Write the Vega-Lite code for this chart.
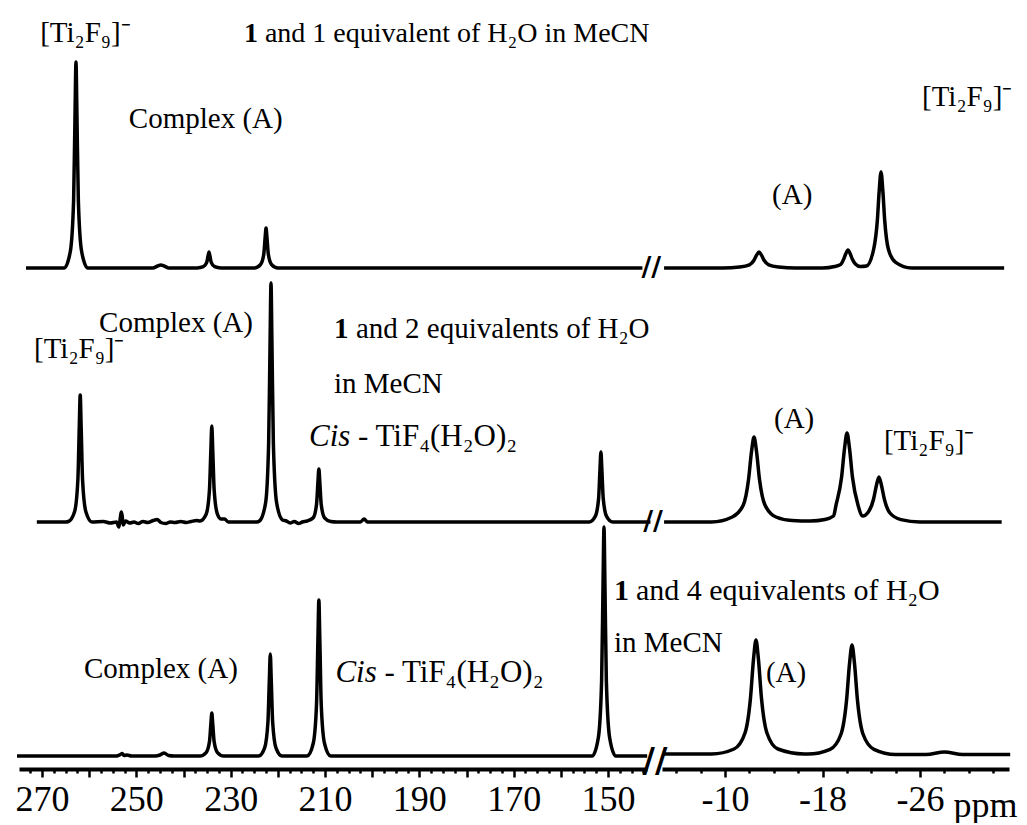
{
  "$schema": "https://vega.github.io/schema/vega-lite/v6.json",
  "padding": {"left": 15, "top": 0, "right": 0, "bottom": 0},
  "bounds": "flush",
  "config": {"view": {"stroke": null}, "font": "Liberation Serif", "axis": {"labelFont": "Liberation Serif", "titleFont": "Liberation Serif"}},
  "datasets": {
    "spectra": [
      {"trace":"t","ppm":273.4,"h":0},{"trace":"t","ppm":266,"h":0},{"trace":"t","ppm":265.3,"h":0},{"trace":"t","ppm":264.0,"h":16.5},{"trace":"t","ppm":263.3,"h":68},{"trace":"t","ppm":263.0,"h":154.5},{"trace":"t","ppm":262.8,"h":206},{"trace":"t","ppm":262.6,"h":154.5},{"trace":"t","ppm":262.3,"h":68},{"trace":"t","ppm":261.6,"h":16.5},{"trace":"t","ppm":260.3,"h":0},{"trace":"t","ppm":250,"h":0},{"trace":"t","ppm":246.5,"h":0},{"trace":"t","ppm":245.5,"h":2},{"trace":"t","ppm":244.8,"h":3},{"trace":"t","ppm":244.1,"h":2},{"trace":"t","ppm":243.1,"h":0},{"trace":"t","ppm":237.1,"h":0},{"trace":"t","ppm":235.8,"h":1.3},{"trace":"t","ppm":235.1,"h":5.3},{"trace":"t","ppm":234.8,"h":12},{"trace":"t","ppm":234.6,"h":16},{"trace":"t","ppm":234.4,"h":12},{"trace":"t","ppm":234.1,"h":5.3},{"trace":"t","ppm":233.4,"h":1.3},{"trace":"t","ppm":232.1,"h":0},{"trace":"t","ppm":225.0,"h":0},{"trace":"t","ppm":223.7,"h":3.2},{"trace":"t","ppm":223.0,"h":13.2},{"trace":"t","ppm":222.7,"h":30},{"trace":"t","ppm":222.5,"h":40},{"trace":"t","ppm":222.3,"h":30},{"trace":"t","ppm":222.0,"h":13.2},{"trace":"t","ppm":221.3,"h":3.2},{"trace":"t","ppm":220.0,"h":0},{"trace":"t","ppm":142.7,"h":0},
      {"trace":"t","ppm":-5.0,"h":0},{"trace":"t","ppm":-9.8,"h":0},{"trace":"t","ppm":-11.2,"h":1},{"trace":"t","ppm":-12.0,"h":3.2},{"trace":"t","ppm":-12.39,"h":8},{"trace":"t","ppm":-12.59,"h":12.8},{"trace":"t","ppm":-12.79,"h":16},{"trace":"t","ppm":-12.99,"h":12.8},{"trace":"t","ppm":-13.19,"h":8},{"trace":"t","ppm":-13.59,"h":3.2},{"trace":"t","ppm":-14.39,"h":1},{"trace":"t","ppm":-15.8,"h":0},{"trace":"t","ppm":-18.0,"h":0},{"trace":"t","ppm":-19.0,"h":1.5},{"trace":"t","ppm":-19.5,"h":3.6},{"trace":"t","ppm":-19.74,"h":9},{"trace":"t","ppm":-19.9,"h":14},{"trace":"t","ppm":-20.09,"h":18},{"trace":"t","ppm":-20.28,"h":14},{"trace":"t","ppm":-20.44,"h":9},{"trace":"t","ppm":-20.7,"h":4},{"trace":"t","ppm":-21.1,"h":1.5},{"trace":"t","ppm":-21.6,"h":2},{"trace":"t","ppm":-22.2,"h":19},{"trace":"t","ppm":-22.5,"h":48},{"trace":"t","ppm":-22.65,"h":77},{"trace":"t","ppm":-22.8,"h":96},{"trace":"t","ppm":-22.95,"h":77},{"trace":"t","ppm":-23.1,"h":48},{"trace":"t","ppm":-23.4,"h":19},{"trace":"t","ppm":-24.0,"h":5.6},{"trace":"t","ppm":-25.3,"h":0},{"trace":"t","ppm":-32.9,"h":0},
      {"trace":"m","ppm":271.1,"h":0},{"trace":"m","ppm":265,"h":0},{"trace":"m","ppm":264.4,"h":0.5},{"trace":"m","ppm":263.1,"h":10.2},{"trace":"m","ppm":262.4,"h":42},{"trace":"m","ppm":262.1,"h":95},{"trace":"m","ppm":261.9,"h":127},{"trace":"m","ppm":261.7,"h":95},{"trace":"m","ppm":261.4,"h":42},{"trace":"m","ppm":260.7,"h":10.2},{"trace":"m","ppm":259.4,"h":0},{"trace":"m","ppm":257,"h":0.5},{"trace":"m","ppm":255.5,"h":-1},{"trace":"m","ppm":254.2,"h":0},{"trace":"m","ppm":253.7,"h":-5},{"trace":"m","ppm":253.4,"h":4},{"trace":"m","ppm":253.2,"h":10},{"trace":"m","ppm":253.0,"h":6},{"trace":"m","ppm":252.8,"h":-3},{"trace":"m","ppm":252.3,"h":1},{"trace":"m","ppm":251.4,"h":-1},{"trace":"m","ppm":250.5,"h":0},{"trace":"m","ppm":249.6,"h":-1.5},{"trace":"m","ppm":248.6,"h":0.5},{"trace":"m","ppm":247.6,"h":-0.5},{"trace":"m","ppm":246.4,"h":1.5},{"trace":"m","ppm":245.6,"h":2.5},{"trace":"m","ppm":244.8,"h":-0.5},{"trace":"m","ppm":243.8,"h":-1.5},{"trace":"m","ppm":242.8,"h":0},{"trace":"m","ppm":241.8,"h":-0.5},{"trace":"m","ppm":240.6,"h":0.5},{"trace":"m","ppm":239.4,"h":-0.5},{"trace":"m","ppm":238.4,"h":0.5},{"trace":"m","ppm":237.2,"h":1.5},{"trace":"m","ppm":236.5,"h":1},{"trace":"m","ppm":235.2,"h":7.7},{"trace":"m","ppm":234.5,"h":32},{"trace":"m","ppm":234.2,"h":72},{"trace":"m","ppm":234.0,"h":96},{"trace":"m","ppm":233.8,"h":72},{"trace":"m","ppm":233.5,"h":32},{"trace":"m","ppm":232.8,"h":7.7},{"trace":"m","ppm":232.0,"h":3},{"trace":"m","ppm":231.3,"h":3},{"trace":"m","ppm":230.5,"h":0},{"trace":"m","ppm":224.5,"h":0},{"trace":"m","ppm":223.9,"h":1},{"trace":"m","ppm":222.6,"h":19},{"trace":"m","ppm":221.95,"h":79},{"trace":"m","ppm":221.65,"h":179},{"trace":"m","ppm":221.45,"h":239},{"trace":"m","ppm":221.25,"h":179},{"trace":"m","ppm":220.95,"h":79},{"trace":"m","ppm":220.25,"h":19},{"trace":"m","ppm":219.0,"h":2},{"trace":"m","ppm":218.2,"h":1},{"trace":"m","ppm":217.4,"h":-1},{"trace":"m","ppm":216.5,"h":0.5},{"trace":"m","ppm":215.6,"h":-1.5},{"trace":"m","ppm":214.8,"h":0},{"trace":"m","ppm":213.8,"h":1},{"trace":"m","ppm":212.5,"h":4.2},{"trace":"m","ppm":211.8,"h":17.5},{"trace":"m","ppm":211.5,"h":40},{"trace":"m","ppm":211.3,"h":53},{"trace":"m","ppm":211.1,"h":40},{"trace":"m","ppm":210.8,"h":17.5},{"trace":"m","ppm":210.1,"h":4.2},{"trace":"m","ppm":208.8,"h":0.5},{"trace":"m","ppm":207.5,"h":0},{"trace":"m","ppm":202.5,"h":0},{"trace":"m","ppm":201.7,"h":3},{"trace":"m","ppm":201.0,"h":0},{"trace":"m","ppm":154.0,"h":0},{"trace":"m","ppm":152.7,"h":5.6},{"trace":"m","ppm":152.0,"h":23},{"trace":"m","ppm":151.7,"h":52.5},{"trace":"m","ppm":151.5,"h":70},{"trace":"m","ppm":151.3,"h":52.5},{"trace":"m","ppm":151.0,"h":23},{"trace":"m","ppm":150.3,"h":5.6},{"trace":"m","ppm":149.0,"h":0},{"trace":"m","ppm":141.0,"h":0},
      {"trace":"m","ppm":-5.0,"h":0},{"trace":"m","ppm":-8.9,"h":0},{"trace":"m","ppm":-10.6,"h":5},{"trace":"m","ppm":-11.5,"h":17},{"trace":"m","ppm":-11.93,"h":42.5},{"trace":"m","ppm":-12.18,"h":71},{"trace":"m","ppm":-12.38,"h":85},{"trace":"m","ppm":-12.58,"h":71},{"trace":"m","ppm":-12.83,"h":42.5},{"trace":"m","ppm":-13.28,"h":17},{"trace":"m","ppm":-14.18,"h":5},{"trace":"m","ppm":-15.5,"h":1.5},{"trace":"m","ppm":-17.0,"h":1},{"trace":"m","ppm":-18.2,"h":2.5},{"trace":"m","ppm":-18.9,"h":6},{"trace":"m","ppm":-19.11,"h":17},{"trace":"m","ppm":-19.56,"h":44.5},{"trace":"m","ppm":-19.81,"h":74},{"trace":"m","ppm":-20.01,"h":89},{"trace":"m","ppm":-20.21,"h":74},{"trace":"m","ppm":-20.46,"h":44.5},{"trace":"m","ppm":-20.91,"h":17},{"trace":"m","ppm":-21.3,"h":6},{"trace":"m","ppm":-21.73,"h":9.5},{"trace":"m","ppm":-22.18,"h":22.5},{"trace":"m","ppm":-22.43,"h":37},{"trace":"m","ppm":-22.63,"h":45},{"trace":"m","ppm":-22.83,"h":37},{"trace":"m","ppm":-23.08,"h":22.5},{"trace":"m","ppm":-23.53,"h":9},{"trace":"m","ppm":-24.43,"h":2.4},{"trace":"m","ppm":-26.0,"h":0},{"trace":"m","ppm":-32.7,"h":0},
      {"trace":"b","ppm":275.3,"h":0},{"trace":"b","ppm":262,"h":0},{"trace":"b","ppm":254.2,"h":0},{"trace":"b","ppm":253.4,"h":1.5},{"trace":"b","ppm":253.0,"h":2.5},{"trace":"b","ppm":252.6,"h":0.5},{"trace":"b","ppm":252.0,"h":1},{"trace":"b","ppm":251.0,"h":0},{"trace":"b","ppm":246,"h":0},{"trace":"b","ppm":245,"h":1},{"trace":"b","ppm":244.1,"h":3},{"trace":"b","ppm":243.2,"h":0.5},{"trace":"b","ppm":242,"h":0},{"trace":"b","ppm":236.5,"h":0},{"trace":"b","ppm":235.2,"h":3.4},{"trace":"b","ppm":234.5,"h":14.2},{"trace":"b","ppm":234.2,"h":32},{"trace":"b","ppm":234.0,"h":43},{"trace":"b","ppm":233.8,"h":32},{"trace":"b","ppm":233.5,"h":14.2},{"trace":"b","ppm":232.8,"h":3.4},{"trace":"b","ppm":231.5,"h":0},{"trace":"b","ppm":224.1,"h":0},{"trace":"b","ppm":222.8,"h":8.2},{"trace":"b","ppm":222.1,"h":34},{"trace":"b","ppm":221.8,"h":76.5},{"trace":"b","ppm":221.6,"h":102},{"trace":"b","ppm":221.4,"h":76.5},{"trace":"b","ppm":221.1,"h":34},{"trace":"b","ppm":220.4,"h":8.2},{"trace":"b","ppm":219.1,"h":0},{"trace":"b","ppm":213.8,"h":0},{"trace":"b","ppm":212.5,"h":12.5},{"trace":"b","ppm":211.8,"h":51.5},{"trace":"b","ppm":211.5,"h":117},{"trace":"b","ppm":211.3,"h":156},{"trace":"b","ppm":211.1,"h":117},{"trace":"b","ppm":210.8,"h":51.5},{"trace":"b","ppm":210.1,"h":12.5},{"trace":"b","ppm":208.8,"h":0},{"trace":"b","ppm":153.35,"h":0},{"trace":"b","ppm":152.05,"h":18.3},{"trace":"b","ppm":151.35,"h":75.6},{"trace":"b","ppm":151.05,"h":172},{"trace":"b","ppm":150.85,"h":229},{"trace":"b","ppm":150.65,"h":172},{"trace":"b","ppm":150.35,"h":75.6},{"trace":"b","ppm":149.65,"h":18.3},{"trace":"b","ppm":148.35,"h":0},{"trace":"b","ppm":141.7,"h":0},
      {"trace":"b","ppm":-5.0,"h":2},{"trace":"b","ppm":-8.9,"h":2},{"trace":"b","ppm":-10.74,"h":7},{"trace":"b","ppm":-11.64,"h":23},{"trace":"b","ppm":-12.09,"h":58},{"trace":"b","ppm":-12.34,"h":97},{"trace":"b","ppm":-12.54,"h":116},{"trace":"b","ppm":-12.74,"h":97},{"trace":"b","ppm":-12.99,"h":58},{"trace":"b","ppm":-13.44,"h":23},{"trace":"b","ppm":-14.34,"h":7},{"trace":"b","ppm":-16.5,"h":2},{"trace":"b","ppm":-16.8,"h":2},{"trace":"b","ppm":-18.62,"h":6.7},{"trace":"b","ppm":-19.52,"h":22},{"trace":"b","ppm":-19.97,"h":55.5},{"trace":"b","ppm":-20.22,"h":93},{"trace":"b","ppm":-20.42,"h":111},{"trace":"b","ppm":-20.62,"h":93},{"trace":"b","ppm":-20.87,"h":55.5},{"trace":"b","ppm":-21.32,"h":22},{"trace":"b","ppm":-22.22,"h":6.7},{"trace":"b","ppm":-24,"h":1.5},{"trace":"b","ppm":-26.5,"h":1.5},{"trace":"b","ppm":-28.0,"h":4},{"trace":"b","ppm":-29.5,"h":1.5},{"trace":"b","ppm":-33.4,"h":1.5}
    ],
    "labels": [
      {"trace":"t","ppm":270.4,"h":226,"text":"[Ti₂F₉]⁻"},
      {"trace":"t","ppm":251.6,"h":140,"text":"Complex (A)"},
      {"trace":"t","ppm":-13.86,"h":64,"text":"(A)"},
      {"trace":"t","ppm":-26.16,"h":162,"text":"[Ti₂F₉]⁻"},
      {"trace":"m","ppm":271.7,"h":164,"text":"[Ti₂F₉]⁻"},
      {"trace":"m","ppm":257.9,"h":190,"text":"Complex (A)"},
      {"trace":"m","ppm":208.1,"h":129,"text":"in MeCN"},
      {"trace":"m","ppm":-14.02,"h":94,"text":"(A)"},
      {"trace":"m","ppm":-23.04,"h":72,"text":"[Ti₂F₉]⁻"},
      {"trace":"b","ppm":-0.89,"h":104,"text":"in MeCN"},
      {"trace":"b","ppm":261.1,"h":78,"text":"Complex (A)"},
      {"trace":"b","ppm":-13.36,"h":74,"text":"(A)"}
    ],
    "phrases": [
      {"trace":"t","ppm":227.2,"h":226,"lead":"1","rest":"and 1 equivalent of H₂O in MeCN"},
      {"trace":"m","ppm":208.1,"h":184,"lead":"1","rest":"and 2 equivalents of H₂O"},
      {"trace":"m","ppm":213.4,"h":76,"lead":"Cis","rest":"- TiF₄(H₂O)₂"},
      {"trace":"b","ppm":-0.89,"h":156,"lead":"1","rest":"and 4 equivalents of H₂O"},
      {"trace":"b","ppm":207.8,"h":74,"lead":"Cis","rest":"- TiF₄(H₂O)₂"}
    ],
    "breaks": [
      {"trace":"t","ppm":-3.95,"h":0},
      {"trace":"m","ppm":-4.1,"h":0},
      {"trace":"b","ppm":-4.25,"h":-6}
    ]
  },
  "spacing": 15,
  "hconcat": [
    {
      "width": 628,
      "height": 769,
      "encoding": {"x": {"field": "ppm", "type": "quantitative",
        "scale": {"domain": [141.73, 274.88], "reverse": true, "nice": false, "zero": false},
        "axis": {"title": null, "grid": false,
          "values": [142.5,145,147.5,150,152.5,155,157.5,160,162.5,165,167.5,170,172.5,175,177.5,180,182.5,185,187.5,190,192.5,195,197.5,200,202.5,205,207.5,210,212.5,215,217.5,220,222.5,225,227.5,230,232.5,235,237.5,240,242.5,245,247.5,250,252.5,255,257.5,260,262.5,265,267.5,270,272.5],
          "labelExpr": "datum.value % 20 === 10 ? datum.label : ''",
          "labelOverlap": false, "labelBound": false, "labelFlush": false,
          "labelFont": "Liberation Serif", "labelFontSize": 36, "labelColor": "black", "labelPadding": 5,
          "domainColor": "black", "domainWidth": 4, "tickColor": "black", "tickWidth": 2.5,
          "tickSize": {"condition": {"test": "datum.value % 10 === 0", "value": 8}, "value": 4}}}},
      "layer": [
        {"encoding": {"y": {"field": "h", "type": "quantitative", "scale": {"domain": [-501, 268], "nice": false, "zero": false}, "axis": null}},
         "layer": [
          {"data": {"name": "spectra"}, "transform": [{"filter": "datum.trace === 't' && datum.ppm > 50"}], "mark": {"type": "line", "color": "black", "strokeWidth": 3.5, "strokeJoin": "round", "interpolate": "monotone"}},
          {"data": {"name": "labels"}, "transform": [{"filter": "datum.trace === 't' && datum.ppm > 50"}], "mark": {"type": "text", "align": "left", "baseline": "alphabetic", "font": "Liberation Serif", "fontSize": 29, "color": "black"}, "encoding": {"text": {"field": "text"}}},
          {"data": {"name": "phrases"}, "transform": [{"filter": "datum.trace === 't' && datum.ppm > 50 && datum.lead === '1'"}], "mark": {"type": "text", "align": "left", "baseline": "alphabetic", "font": "Liberation Serif", "fontSize": 28, "fontWeight": "bold", "color": "black"}, "encoding": {"text": {"field": "lead"}}},
          {"data": {"name": "phrases"}, "transform": [{"filter": "datum.trace === 't' && datum.ppm > 50 && datum.lead === '1'"}], "mark": {"type": "text", "align": "left", "baseline": "alphabetic", "font": "Liberation Serif", "fontSize": 28, "dx": 21, "color": "black"}, "encoding": {"text": {"field": "rest"}}}
         ]},
        {"encoding": {"y": {"field": "h", "type": "quantitative", "scale": {"domain": [-247, 522], "nice": false, "zero": false}, "axis": null}},
         "layer": [
          {"data": {"name": "spectra"}, "transform": [{"filter": "datum.trace === 'm' && datum.ppm > 50"}], "mark": {"type": "line", "color": "black", "strokeWidth": 3.5, "strokeJoin": "round", "interpolate": "monotone"}},
          {"data": {"name": "labels"}, "transform": [{"filter": "datum.trace === 'm' && datum.ppm > 50"}], "mark": {"type": "text", "align": "left", "baseline": "alphabetic", "font": "Liberation Serif", "fontSize": 29, "color": "black"}, "encoding": {"text": {"field": "text"}}},
          {"data": {"name": "phrases"}, "transform": [{"filter": "datum.trace === 'm' && datum.ppm > 50 && datum.lead === '1'"}], "mark": {"type": "text", "align": "left", "baseline": "alphabetic", "font": "Liberation Serif", "fontSize": 29, "fontWeight": "bold", "color": "black"}, "encoding": {"text": {"field": "lead"}}},
          {"data": {"name": "phrases"}, "transform": [{"filter": "datum.trace === 'm' && datum.ppm > 50 && datum.lead === '1'"}], "mark": {"type": "text", "align": "left", "baseline": "alphabetic", "font": "Liberation Serif", "fontSize": 29, "dx": 22, "color": "black"}, "encoding": {"text": {"field": "rest"}}},
          {"data": {"name": "phrases"}, "transform": [{"filter": "datum.trace === 'm' && datum.ppm > 50 && datum.lead === 'Cis'"}], "mark": {"type": "text", "align": "left", "baseline": "alphabetic", "font": "Liberation Serif", "fontSize": 31, "fontStyle": "italic", "color": "black"}, "encoding": {"text": {"field": "lead"}}},
          {"data": {"name": "phrases"}, "transform": [{"filter": "datum.trace === 'm' && datum.ppm > 50 && datum.lead === 'Cis'"}], "mark": {"type": "text", "align": "left", "baseline": "alphabetic", "font": "Liberation Serif", "fontSize": 31, "dx": 49, "color": "black"}, "encoding": {"text": {"field": "rest"}}}
         ]},
        {"encoding": {"y": {"field": "h", "type": "quantitative", "scale": {"domain": [-13, 756], "nice": false, "zero": false}, "axis": null}},
         "layer": [
          {"data": {"name": "spectra"}, "transform": [{"filter": "datum.trace === 'b' && datum.ppm > 50"}], "mark": {"type": "line", "color": "black", "strokeWidth": 3.5, "strokeJoin": "round", "interpolate": "monotone"}},
          {"data": {"name": "labels"}, "transform": [{"filter": "datum.trace === 'b' && datum.ppm > 50"}], "mark": {"type": "text", "align": "left", "baseline": "alphabetic", "font": "Liberation Serif", "fontSize": 29, "color": "black"}, "encoding": {"text": {"field": "text"}}},
          {"data": {"name": "phrases"}, "transform": [{"filter": "datum.trace === 'b' && datum.ppm > 50 && datum.lead === 'Cis'"}], "mark": {"type": "text", "align": "left", "baseline": "alphabetic", "font": "Liberation Serif", "fontSize": 31, "fontStyle": "italic", "color": "black"}, "encoding": {"text": {"field": "lead"}}},
          {"data": {"name": "phrases"}, "transform": [{"filter": "datum.trace === 'b' && datum.ppm > 50 && datum.lead === 'Cis'"}], "mark": {"type": "text", "align": "left", "baseline": "alphabetic", "font": "Liberation Serif", "fontSize": 31, "dx": 49, "color": "black"}, "encoding": {"text": {"field": "rest"}}}
         ]}
      ],
      "resolve": {"scale": {"y": "independent"}}
    },
    {
      "width": 347,
      "height": 769,
      "encoding": {"x": {"field": "ppm", "type": "quantitative",
        "scale": {"domain": [-33.3, -4.83], "reverse": true, "nice": false, "zero": false},
        "axis": {"title": "ppm", "grid": false,
          "values": [-6,-8,-10,-12,-14,-16,-18,-20,-22,-24,-26,-28,-30,-32],
          "labelExpr": "(datum.value + 10) % 8 === 0 && datum.value <= -10 && datum.value >= -26 ? '-' + (-datum.value) : ''",
          "labelOverlap": false, "labelBound": false, "labelFlush": false,
          "labelFont": "Liberation Serif", "labelFontSize": 36, "labelColor": "black", "labelPadding": 5,
          "titleFont": "Liberation Serif", "titleFontSize": 36, "titleFontWeight": "normal", "titleColor": "black",
          "titleX": 291, "titleY": 47, "titleAlign": "left", "titleBaseline": "alphabetic", "titleAngle": 0,
          "domainColor": "black", "domainWidth": 4, "tickColor": "black", "tickWidth": 2.5,
          "tickSize": {"condition": {"test": "(datum.value + 10) % 8 === 0 && datum.value <= -10 && datum.value >= -26", "value": 8}, "value": 4}}}},
      "layer": [
        {"encoding": {"y": {"field": "h", "type": "quantitative", "scale": {"domain": [-501, 268], "nice": false, "zero": false}, "axis": null}},
         "layer": [
          {"data": {"name": "spectra"}, "transform": [{"filter": "datum.trace === 't' && datum.ppm < 50"}], "mark": {"type": "line", "color": "black", "strokeWidth": 3.5, "strokeJoin": "round", "interpolate": "monotone"}},
          {"data": {"name": "labels"}, "transform": [{"filter": "datum.trace === 't' && datum.ppm < 50"}], "mark": {"type": "text", "align": "left", "baseline": "alphabetic", "font": "Liberation Serif", "fontSize": 29, "color": "black"}, "encoding": {"text": {"field": "text"}}},
          {"data": {"name": "breaks"}, "transform": [{"filter": "datum.trace === 't'"}], "mark": {"type": "text", "text": "//", "align": "center", "baseline": "middle", "font": "DejaVu Sans", "fontWeight": "bold", "fontSize": 27, "color": "black"}}
         ]},
        {"encoding": {"y": {"field": "h", "type": "quantitative", "scale": {"domain": [-247, 522], "nice": false, "zero": false}, "axis": null}},
         "layer": [
          {"data": {"name": "spectra"}, "transform": [{"filter": "datum.trace === 'm' && datum.ppm < 50"}], "mark": {"type": "line", "color": "black", "strokeWidth": 3.5, "strokeJoin": "round", "interpolate": "monotone"}},
          {"data": {"name": "labels"}, "transform": [{"filter": "datum.trace === 'm' && datum.ppm < 50"}], "mark": {"type": "text", "align": "left", "baseline": "alphabetic", "font": "Liberation Serif", "fontSize": 29, "color": "black"}, "encoding": {"text": {"field": "text"}}},
          {"data": {"name": "breaks"}, "transform": [{"filter": "datum.trace === 'm'"}], "mark": {"type": "text", "text": "//", "align": "center", "baseline": "middle", "font": "DejaVu Sans", "fontWeight": "bold", "fontSize": 27, "color": "black"}}
         ]},
        {"encoding": {"y": {"field": "h", "type": "quantitative", "scale": {"domain": [-13, 756], "nice": false, "zero": false}, "axis": null}},
         "layer": [
          {"data": {"name": "spectra"}, "transform": [{"filter": "datum.trace === 'b' && datum.ppm < 50"}], "mark": {"type": "line", "color": "black", "strokeWidth": 3.5, "strokeJoin": "round", "interpolate": "monotone"}},
          {"data": {"name": "labels"}, "transform": [{"filter": "datum.trace === 'b' && datum.ppm < 50"}], "mark": {"type": "text", "align": "left", "baseline": "alphabetic", "font": "Liberation Serif", "fontSize": 29, "color": "black"}, "encoding": {"text": {"field": "text"}}},
          {"data": {"name": "phrases"}, "transform": [{"filter": "datum.trace === 'b' && datum.ppm < 50 && datum.lead === '1'"}], "mark": {"type": "text", "align": "left", "baseline": "alphabetic", "font": "Liberation Serif", "fontSize": 30, "fontWeight": "bold", "color": "black"}, "encoding": {"text": {"field": "lead"}}},
          {"data": {"name": "phrases"}, "transform": [{"filter": "datum.trace === 'b' && datum.ppm < 50 && datum.lead === '1'"}], "mark": {"type": "text", "align": "left", "baseline": "alphabetic", "font": "Liberation Serif", "fontSize": 30, "dx": 22, "color": "black"}, "encoding": {"text": {"field": "rest"}}},
          {"data": {"name": "breaks"}, "transform": [{"filter": "datum.trace === 'b'"}], "mark": {"type": "text", "text": "//", "align": "center", "baseline": "middle", "font": "DejaVu Sans", "fontWeight": "bold", "fontSize": 34, "color": "black"}}
         ]}
      ],
      "resolve": {"scale": {"y": "independent"}}
    }
  ]
}
